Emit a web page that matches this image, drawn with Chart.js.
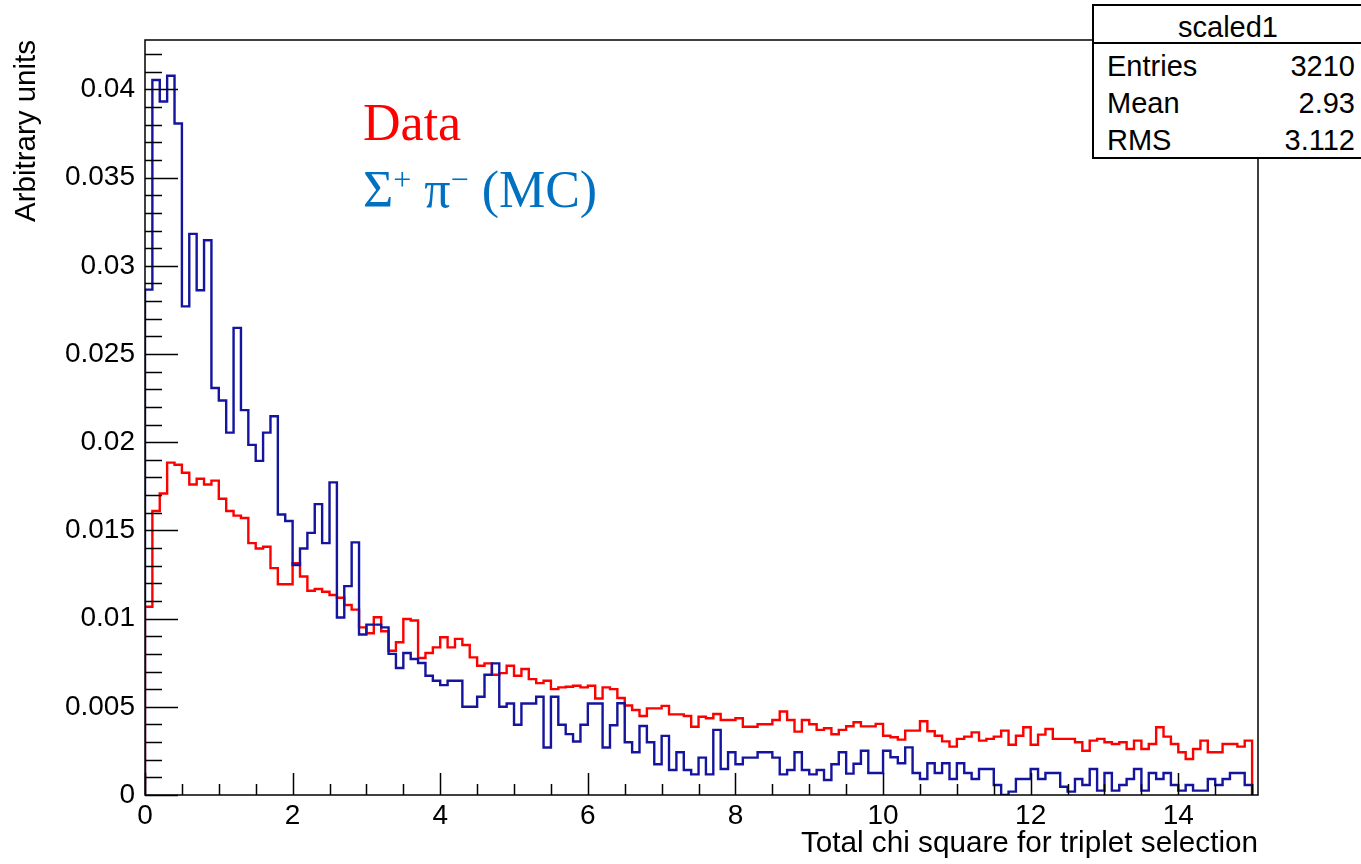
<!DOCTYPE html>
<html>
<head>
<meta charset="utf-8">
<script src="https://cdn.jsdelivr.net/npm/chart.js@4.4.1/dist/chart.umd.min.js"></script>
<style>
  body { margin: 0; background: #fff; }
  #wrap { position: relative; width: 1361px; height: 864px; overflow: hidden; }
  .stat { position: absolute; font-family: "Liberation Sans", Arial, sans-serif; font-size: 29px; color: #000; line-height: 29px; white-space: nowrap; }
  .legend { position: absolute; left: 363px; font-family: "Liberation Serif", "Times New Roman", serif; font-size: 52px; line-height: 52px; white-space: nowrap; }
  .legend .sup { position: relative; font-size: 32px; top: -17px; }
</style>
</head>
<body>
<div id="wrap">
  <canvas id="chiChart" width="1361" height="864"></canvas>

  <div style="position:absolute; left:1092px; top:4px; width:280px; height:151px; border:2px solid #000; background:#fff;"></div>
  <div style="position:absolute; left:1092px; top:42px; width:280px; height:0; border-top:2px solid #000;"></div>
  <div class="stat" style="left:1092px; width:272px; top:13px; text-align:center;">scaled1</div>
  <div class="stat" style="left:1107px; top:52px;">Entries</div>
  <div class="stat" style="right:6px; top:52px;">3210</div>
  <div class="stat" style="left:1107px; top:89px;">Mean</div>
  <div class="stat" style="right:6px; top:89px;">2.93</div>
  <div class="stat" style="left:1107px; top:126px;">RMS</div>
  <div class="stat" style="right:6px; top:126px;">3.112</div>

  <div class="legend" style="top:97px; color:#ff0000;">Data</div>
  <div class="legend" style="top:164px; color:#0070c0;">Σ<span class="sup">+</span> π<span class="sup">−</span> (MC)</div>
</div>

<script>
// histogram binning: 150 bins of 0.1 from 0 to 15
const binWidth = 0.1;
const xMax = 15.08;
const yMax = 0.0428;

// red histogram (data)
const dataValues = [
  0.01067, 0.01610, 0.01709, 0.01884, 0.01872, 0.01827, 0.01760, 0.01793, 0.01760, 0.01782,
  0.01679, 0.01610, 0.01584, 0.01570, 0.01428, 0.01397, 0.01407, 0.01286, 0.01195, 0.01195,
  0.01314, 0.01239, 0.01158, 0.01168, 0.01152, 0.01134, 0.01118, 0.01077, 0.01051, 0.00950,
  0.00917, 0.01008, 0.00928, 0.00818, 0.00866, 0.00998, 0.00989, 0.00777, 0.00805, 0.00837,
  0.00894, 0.00837, 0.00885, 0.00850, 0.00780, 0.00733, 0.00746, 0.00682, 0.00691, 0.00733,
  0.00676, 0.00714, 0.00657, 0.00634, 0.00648, 0.00600, 0.00610, 0.00614, 0.00619, 0.00610,
  0.00619, 0.00547, 0.00610, 0.00600, 0.00550, 0.00507, 0.00482, 0.00448, 0.00491, 0.00491,
  0.00505, 0.00457, 0.00457, 0.00448, 0.00387, 0.00444, 0.00435, 0.00459, 0.00425, 0.00425,
  0.00435, 0.00387, 0.00387, 0.00401, 0.00401, 0.00425, 0.00473, 0.00425, 0.00359, 0.00425,
  0.00401, 0.00369, 0.00378, 0.00344, 0.00369, 0.00390, 0.00412, 0.00389, 0.00389, 0.00403,
  0.00336, 0.00327, 0.00314, 0.00365, 0.00365, 0.00418, 0.00361, 0.00336, 0.00304, 0.00274,
  0.00318, 0.00331, 0.00355, 0.00308, 0.00318, 0.00331, 0.00365, 0.00285, 0.00336, 0.00384,
  0.00285, 0.00342, 0.00374, 0.00318, 0.00318, 0.00318, 0.00299, 0.00251, 0.00308, 0.00318,
  0.00299, 0.00289, 0.00299, 0.00261, 0.00308, 0.00261, 0.00289, 0.00384, 0.00331, 0.00289,
  0.00242, 0.00204, 0.00261, 0.00308, 0.00242, 0.00242, 0.00289, 0.00289, 0.00274, 0.00308
];

// blue histogram (Sigma+ pi- MC)
const mcValues = [
  0.02865, 0.04053, 0.03931, 0.04077, 0.03807, 0.02770, 0.03181, 0.02861, 0.03145, 0.02307,
  0.02236, 0.02054, 0.02648, 0.02182, 0.01985, 0.01894, 0.02054, 0.02147, 0.01590, 0.01553,
  0.01304, 0.01397, 0.01486, 0.01649, 0.01428, 0.01772, 0.01006, 0.01184, 0.01432, 0.00910,
  0.00966, 0.00966, 0.00950, 0.00800, 0.00720, 0.00805, 0.00771, 0.00748, 0.00676, 0.00648,
  0.00623, 0.00648, 0.00648, 0.00500, 0.00500, 0.00557, 0.00682, 0.00746, 0.00500, 0.00519,
  0.00398, 0.00519, 0.00519, 0.00557, 0.00269, 0.00557, 0.00398, 0.00345, 0.00303, 0.00398,
  0.00519, 0.00519, 0.00269, 0.00395, 0.00520, 0.00299, 0.00242, 0.00391, 0.00299, 0.00174,
  0.00335, 0.00142, 0.00242, 0.00142, 0.00117, 0.00212, 0.00117, 0.00369, 0.00147, 0.00242,
  0.00174, 0.00212, 0.00212, 0.00242, 0.00242, 0.00212, 0.00117, 0.00142, 0.00242, 0.00142,
  0.00117, 0.00142, 0.00085, 0.00174, 0.00242, 0.00121, 0.00177, 0.00251, 0.00125, 0.00125,
  0.00251, 0.00214, 0.00180, 0.00270, 0.00125, 0.00091, 0.00180, 0.00125, 0.00180, 0.00091,
  0.00180, 0.00125, 0.00091, 0.00147, 0.00147, 0.00057, 0.00000, 0.00019, 0.00091, 0.00091,
  0.00147, 0.00091, 0.00125, 0.00125, 0.00047, 0.00019, 0.00091, 0.00057, 0.00147, 0.00025,
  0.00125, 0.00025, 0.00057, 0.00091, 0.00147, 0.00025, 0.00125, 0.00091, 0.00125, 0.00057,
  0.00025, 0.00057, 0.00025, 0.00025, 0.00091, 0.00057, 0.00091, 0.00125, 0.00125, 0.00057
];

const xTitle = "Total chi square for triplet selection";
const yTitle = "Arbitrary units";

// outline of a histogram: up from 0 at the low edge, steps, back to 0 at the high edge
function histPoints(values) {
  const pts = [{ x: 0, y: 0 }];
  values.forEach((v, i) => pts.push({ x: i * binWidth, y: v }));
  pts.push({ x: values.length * binWidth, y: 0 });
  return pts;
}

const labelFont = { family: "Liberation Sans", size: 28 };

// ROOT style frame with ticks drawn inside
const rootFrame = {
  id: "rootFrame",
  afterDatasetsDraw(chart) {
    const { ctx, chartArea: a, scales } = chart;
    ctx.save();
    ctx.strokeStyle = "#000";
    ctx.lineWidth = 1.5;
    ctx.strokeRect(a.left, a.top, a.right - a.left, a.bottom - a.top);
    ctx.beginPath();
    for (let k = 0; k * 0.5 <= xMax; k++) {
      const px = Math.round(scales.x.getPixelForValue(k * 0.5)) + 0.5;
      const len = k % 4 === 0 ? 22 : 11;
      ctx.moveTo(px, a.bottom);
      ctx.lineTo(px, a.bottom - len);
    }
    for (let k = 0; k * 0.001 <= yMax; k++) {
      const py = Math.round(scales.y.getPixelForValue(k * 0.001)) + 0.5;
      const len = k % 5 === 0 ? 33 : 17;
      ctx.moveTo(a.left, py);
      ctx.lineTo(a.left + len, py);
    }
    ctx.stroke();
    ctx.restore();
  },
};

const chiChart = new Chart(document.getElementById("chiChart"), {
  type: "line",
  data: {
    datasets: [
      {
        label: "Sigma+ pi- (MC)",
        data: histPoints(mcValues),
        borderColor: "#14149e",
        borderWidth: 2.4,
        stepped: true,
        pointRadius: 0,
        fill: false,
      },
      {
        label: "Data",
        data: histPoints(dataValues),
        borderColor: "#ff0000",
        borderWidth: 2.4,
        stepped: true,
        pointRadius: 0,
        fill: false,
      },
    ],
  },
  options: {
    responsive: false,
    animation: false,
    layout: { padding: { top: 40, right: 103, left: 0, bottom: 0 } },
    plugins: { legend: { display: false }, tooltip: { enabled: false } },
    scales: {
      x: {
        type: "linear",
        min: 0,
        max: xMax,
        afterFit: (scale) => { scale.height = 69; },
        grid: { display: false, drawTicks: false },
        border: { display: false },
        ticks: {
          stepSize: 2,
          includeBounds: false,
          maxRotation: 0,
          autoSkip: false,
          padding: 4,
          color: "#000",
          font: labelFont,
          callback: (v) => String(v),
        },
        title: {
          display: true,
          text: xTitle,
          align: "end",
          color: "#000",
          font: { family: "Liberation Sans", size: 29.7 },
          padding: { top: 0, bottom: 2 },
        },
      },
      y: {
        type: "linear",
        min: 0,
        max: yMax,
        afterFit: (scale) => { scale.width = 145; },
        grid: { display: false, drawTicks: false },
        border: { display: false },
        ticks: {
          stepSize: 0.005,
          includeBounds: false,
          padding: 10,
          color: "#000",
          font: labelFont,
          callback: (v) => (v === 0 ? "0" : String(+v.toFixed(3))),
        },
        title: {
          display: true,
          text: yTitle,
          align: "end",
          color: "#000",
          font: { family: "Liberation Sans", size: 29.5 },
          padding: { top: 9, bottom: 0 },
        },
      },
    },
  },
  plugins: [rootFrame],
});
</script>
</body>
</html>
